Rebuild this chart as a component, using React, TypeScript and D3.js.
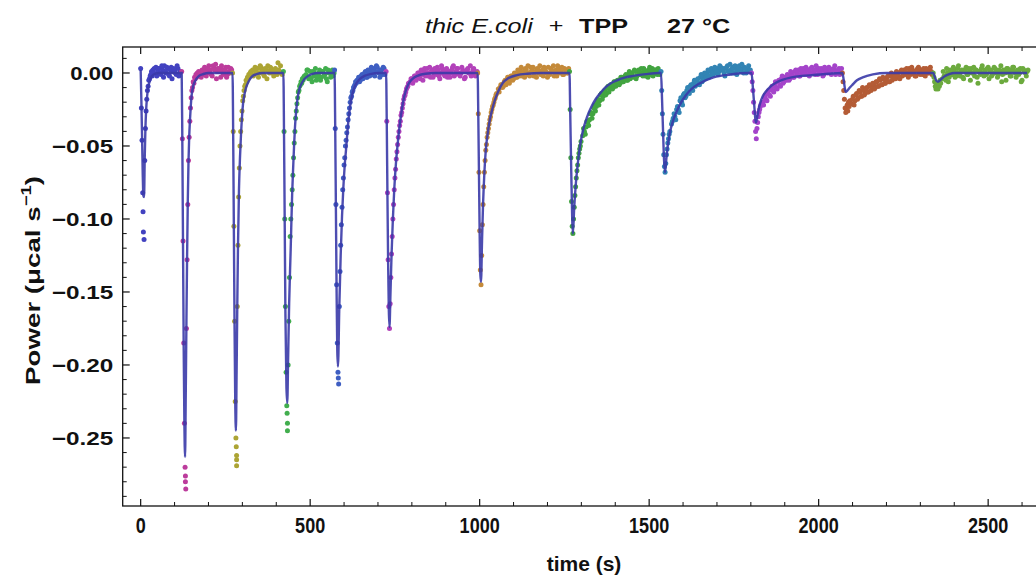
import React from 'react';
import * as d3 from 'd3';

const W = 1036;
const H = 577;

// injection (drop start) time of each data segment, s
const segStart = [0, 121, 271, 421, 572, 724, 994, 1265, 1535, 1802, 2070, 2338];
const segColor = ['#4242c0', '#bc3c9c', '#aca434', '#42ae4e', '#3e5ec2', '#b242ba', '#c48a3a', '#42a440', '#3284b4', '#a444ca', '#b45c36', '#6caa3e'];

// dots near each peak, every 2 s from segStart (units 0.001 µcal/s)
const peakDots = [
  '3,-24,-46,-82,-109,-114,-60,-38,-26,-18,-12,-9,-5,-4,-2,-1,1,-2,2,0,3',
  '1,-45,-115,-185,-240,-270,-285,-175,-128,-90,-60,-44,-33,-24,-17,-12,-10,-6,-7,-3,-4,-1,-3,0,-2,1',
  '0,-40,-105,-170,-225,-250,-262,-160,-118,-85,-65,-50,-40,-32,-26,-19,-16,-12,-9,-8,-5,-6,-3,-4,-1,-2,0,1',
  '1,-40,-100,-160,-205,-228,-240,-200,-170,-140,-112,-100,-90,-80,-70,-58,-48,-40,-31,-26,-21,-17,-13,-12,-9,-8,-6,-7,-4,-5,-3,-2',
  '2,-38,-90,-145,-185,-205,-213,-160,-136,-118,-104,-92,-80,-72,-63,-58,-50,-46,-41,-37,-32,-28,-24,-20,-17,-16,-13,-12,-10,-9,-8,-6,-7,-5',
  '1,-33,-82,-128,-160,-175,-158,-140,-124,-112,-100,-90,-80,-72,-66,-59,-54,-49,-44,-40,-36,-33,-29,-27,-24,-21,-18,-16,-15,-13,-11,-10,-9,-7',
  '0,-28,-68,-108,-135,-145,-125,-104,-90,-78,-68,-60,-53,-49,-44,-41,-38,-35,-32,-30,-27,-25,-23,-22,-20,-18,-17,-15,-14',
  '1,-25,-58,-88,-105,-110,-100,-92,-84,-78,-72,-67,-63,-58,-55,-52,-50,-47',
  '1,-12,-28,-42,-56,-64,-68,-62,-56,-52,-48,-45,-42,-40',
  '0,-6,-12,-20,-27,-33,-40,-45,-38,-34,-30,-27,-25,-23,-22',
  '0,-6,-12,-18,-24,-27,-25,-22,-26,-20,-23,-19',
  '0,-3,-6,-9,-11,-10,-8,-11,-7,-9,-5,-7',
];

// dots after each peak, every 5 s (units 0.001 µcal/s)
const tailDots = [
  '4,1,3,-1,2,5,0,3,-2,4,1,2,-1,3,0',
  '0,2,-1,3,1,5,2,-2,4,6,1,3,-3,2,0,4,-1,1,3',
  '2,-1,1,3,0,4,1,-2,2,5,0,3,1,-1,2,7,1,0',
  '-1,2,-3,-4,1,0,-5,-2,2,-3,1,-1,-4,2,0,1,-2',
  '-3,-5,-1,-2,1,-3,0,2,-1,3,1,4,0,2,-1,3',
  '-6,-4,-5,-2,-3,0,-4,-1,1,-2,3,0,-3,2,-1,1,4,-2,0,3,-1,2,-3,1,0,4,-2,1,3,-1,0,2,-4,1,3,0,-2,2,1,-1',
  '-11,-10,-8,-9,-5,-6,-3,-5,-2,-4,-1,-3,0,2,-2,1,3,-1,0,4,2,-2,1,3,0,-1,2,4,1,-3,0,3,1,-2,2,5,0,1,-1,3,2,0',
  '-43,-40,-37,-34,-32,-27,-28,-22,-23,-18,-19,-14,-16,-12,-14,-9,-11,-8,-10,-6,-8,-5,-7,-3,-6,-2,-5,-1,-4,0,-3,1,-2,2,-1,0,3,-2,1,2,-1,3,0,2,-1,1',
  '-35,-31,-30,-25,-25,-19,-20,-15,-17,-12,-13,-9,-11,-7,-9,-5,-7,-3,-6,-2,-4,0,-3,1,-1,2,0,3,1,4,2,0,3,5,1,2,4,0,3,2,5,1,3,4,0,2,1',
  '-20,-17,-18,-13,-15,-11,-12,-8,-10,-6,-8,-4,-7,-3,-5,-2,-4,0,-3,1,-1,2,-2,0,3,1,-1,2,0,4,1,-1,2,3,0,2,-1,3,1,4,0,2,3,-1,1,3,0',
  '-21,-16,-19,-14,-17,-13,-16,-12,-14,-10,-13,-9,-11,-8,-10,-6,-9,-5,-8,-4,-7,-3,-6,-2,-5,-1,-4,0,-3,1,-2,2,-1,0,3,-1,2,1,-2,3,0,2,-1,1,3,0,2,1',
  '-4,-2,-5,0,-3,1,-1,2,-2,3,0,1,-3,2,4,-1,1,3,0,-2,2,-7,1,3,0,2,-1,4,1,-2,0,3,2,-1,1,-6,2,0,3,1,-2,2,4,0,1,-1,3,-5,2,0,1',
];

// second set of tail dots, 2.5 s after each of the above
const tailDotsB = [
  '-2,3,0,5,-3,1,4,-1,2,-4,3,0,5,-2,1',
  '-3,1,4,-2,3,0,-1,5,2,-4,3,1,5,-1,2,-3,4,0,2',
  '-2,4,0,-3,5,2,-1,3,-4,1,4,0,-2,3,-1,2,5,-1',
  '2,-4,1,-6,-2,3,-3,0,-5,1,-2,3,-6,0,-3,2,0',
  '-6,-2,-4,0,-3,2,-2,4,0,-2,5,1,-3,2,4,-1',
  '-4,-7,-2,-5,0,-3,2,-5,3,0,-2,4,1,-3,3,-1,2,-4,5,1,-2,3,0,-3,2,5,-1,3,0,-2,4,1,-3,2,0,5,-1,3,-2,1',
  '-13,-8,-10,-6,-8,-3,-7,-2,-5,0,-3,2,-2,4,0,-3,2,5,-2,1,4,0,-3,2,5,1,-2,3,0,4,-1,2,5,0,-2,3,1,4,-1,2,0,3',
  '-38,-42,-33,-36,-28,-31,-24,-26,-20,-22,-15,-18,-13,-15,-10,-13,-8,-11,-6,-9,-5,-8,-3,-6,-4,-1,-5,1,-3,-2,2,-4,1,-1,3,-2,2,0,-3,4,1,-2,2,0,3,-1',
  '-33,-28,-32,-23,-27,-17,-22,-14,-16,-10,-14,-8,-12,-5,-8,-4,-8,-1,-5,0,-3,2,-2,3,-1,4,1,-1,5,2,3,-2,4,1,6,0,3,5,-1,4,2,6,0,3,1,5,2',
  '-22,-15,-19,-12,-16,-9,-13,-6,-11,-5,-9,-2,-6,-4,-1,-5,1,-2,-3,2,0,-2,3,1,-1,4,2,-2,3,0,2,5,-1,1,3,-2,4,1,0,3,-1,2,5,0,2,-1,3',
  '-18,-22,-15,-18,-12,-16,-10,-15,-11,-13,-8,-12,-7,-11,-6,-9,-4,-8,-3,-7,-5,-2,-6,0,-4,-3,1,-2,-4,2,-1,0,3,-3,1,4,0,-2,2,4,-1,1,3,-2,2,0,4,-1',
  '1,-3,3,-6,2,-1,4,-3,0,5,-2,2,-4,1,-1,3,-5,0,4,2,-3,1,-1,5,-2,0,3,-4,2,-1,4,0,-3,2,5,-1,1,-5,3,0,-2,4,1,-3,2,0,-6,3,1,-2,2',
];

// extra dots clustered at the bottom of peaks: [t, value, segment]
const deepDots: [number, number, number][] = [
  [7, -95, 0],
  [132, -276, 1], [132, -280, 1],
  [282, -256, 2], [283, -265, 2], [283, -269, 2],
  [432, -233, 3], [433, -245, 3],
  [583, -209, 4],
];

// fitted curve: [t, value]
const fitCurve: [number, number][] = [
  [0, 2], [2, -18], [4, -42], [6, -68], [8, -84], [10, -85], [12, -58], [14, -38], [16, -26], [19, -16], [22, -10], [26, -6], [30, -3.5], [36, -1.5], [44, -0.5], [55, 0],
  [121, 0], [123, -50], [125, -120], [127, -190], [129, -240], [131, -263], [133, -220], [135, -170], [137, -125], [139, -88], [141, -62], [143, -45], [145.5, -32], [148, -22], [150.5, -15], [155, -9], [163, -4.5], [172, -2], [185, -0.7], [200, 0],
  [271, 0], [273, -45], [275, -110], [277, -175], [279, -225], [281, -245], [283, -205], [285, -160], [287, -120], [290, -80], [293, -58], [296, -42], [299, -30], [302, -21], [306, -15], [311, -10], [318, -6], [328, -2.5], [342, -0.8], [360, 0],
  [421, 0], [423, -45], [425, -105], [427, -165], [430, -215], [432.5, -226], [435, -195], [438, -158], [442.5, -121], [447, -82], [450, -64], [452.5, -50], [455, -38], [458, -28], [462, -19], [467, -12], [474, -7.5], [482, -4.5], [492, -2.3], [504, -0.8], [525, 0],
  [572, 0], [574, -40], [576, -95], [578, -150], [580, -190], [582, -201], [586, -160], [590, -125], [594, -98], [598, -78], [602, -63], [606, -52], [610, -40], [614, -30], [619, -21], [625, -14], [633, -8.5], [645, -4.5], [660, -2], [680, -0.6], [700, 0],
  [724, 0], [726, -35], [728, -85], [730, -130], [732, -162], [734, -174], [737, -150], [740, -125], [744, -100], [748, -80], [753, -62], [758, -49], [763, -38], [768, -29], [774, -20], [781, -13], [790, -7.5], [802, -4], [818, -1.8], [840, -0.5], [870, 0],
  [994, 0], [996, -30], [998, -70], [1000, -110], [1002, -138], [1004, -143], [1007, -115], [1010, -90], [1014, -68], [1018, -53], [1024, -41], [1030, -32], [1037, -25], [1045, -18.5], [1055, -12.5], [1069, -6.5], [1085, -3.5], [1110, -1.5], [1140, -0.5], [1180, 0],
  [1265, 0], [1267, -25], [1270, -65], [1273, -100], [1275, -110], [1279, -92], [1284, -75], [1290, -61], [1296, -50], [1304, -40], [1317, -30], [1330, -23], [1342, -18], [1355, -14], [1370, -10], [1387, -7], [1405, -5], [1430, -3], [1453, -2], [1490, -0.8], [1530, 0],
  [1535, 0], [1538, -18], [1541, -40], [1544, -60], [1547, -68], [1551, -58], [1556, -48], [1562, -40], [1570, -33], [1580, -27], [1590, -22], [1600, -18], [1620, -12], [1650, -7], [1690, -3], [1740, -1], [1790, 0],
  [1802, 0], [1806, -10], [1810, -22], [1813, -31], [1815, -34], [1818, -31], [1822, -26], [1827, -21], [1835, -16], [1845, -12.5], [1857, -9.5], [1875, -6.5], [1895, -4.5], [1920, -3], [1950, -2], [1985, -1.4], [2030, -0.5], [2068, 0],
  [2070, 0], [2074, -5], [2077, -10], [2080, -13], [2085, -12], [2092, -10], [2100, -8], [2113, -5], [2130, -3], [2160, -1], [2200, 0], [2338, 0],
  [2343, -3], [2348, -5.5], [2352, -6], [2360, -4.5], [2370, -2.5], [2385, -0.8], [2400, 0], [2615, 0],
];

const xMajor = [0, 500, 1000, 1500, 2000, 2500];
const yMajor = [0, -0.05, -0.1, -0.15, -0.2, -0.25];
const yTickLabels = ['0.00', '\u22120.05', '\u22120.10', '\u22120.15', '\u22120.20', '\u22120.25'];

const L = 122.7, R = 1039, T = 47, B = 506;
const x = d3.scaleLinear().domain([-53, 2650]).range([L, R]);
const y = d3.scaleLinear().domain([-0.2966, 0.0178]).range([B, T]);

type Pt = { t: number; v: number; c: string };

function buildDots(): Pt[] {
  const pts: Pt[] = [];
  segStart.forEach((s, k) => {
    const pv = peakDots[k].split(',').map(Number);
    pv.forEach((v, i) => pts.push({ t: s + i * 2, v: v / 1000, c: segColor[k] }));
    const t0 = s + (pv.length - 1) * 2 + 5;
    tailDots[k].split(',').map(Number).forEach((v, j) => pts.push({ t: t0 + j * 5, v: v / 1000, c: segColor[k] }));
    tailDotsB[k].split(',').map(Number).forEach((v, j) => pts.push({ t: t0 + 2.5 + j * 5, v: v / 1000, c: segColor[k] }));
  });
  deepDots.forEach(([t, v, k]) => pts.push({ t, v: v / 1000, c: segColor[k] }));
  return pts;
}

export default function App() {
  const dots = buildDots();
  const line = d3
    .line<[number, number]>()
    .x((d) => x(d[0]))
    .y((d) => y(d[1] / 1000))
    .curve(d3.curveMonotoneX);
  const xMinor = d3.range(100, 2700, 100).filter((t) => t % 500 !== 0);
  const yMinor = d3.range(-29, 2, 1).map((v) => v / 100).filter((v) => Math.round(v * 100) % 5 !== 0);
  const font = '"Liberation Sans", Arial, sans-serif';
  const tickC = '#111';
  const sx = 1.2;

  return (
    <svg width={W} height={H} style={{ position: 'absolute', left: 0, top: 0, background: '#fff' }} fontFamily={font}>
      <defs>
        <clipPath id="plot">
          <rect x={L} y={T} width={R - L} height={B - T} />
        </clipPath>
      </defs>
      <g clipPath="url(#plot)">
        {dots.map((d, i) => (
          <circle key={i} cx={x(d.t)} cy={y(d.v)} r={2.5} fill={d.c} />
        ))}
        <path d={line(fitCurve) || ''} fill="none" stroke="#3a3aa8" strokeWidth={2.4} strokeOpacity={0.9} />
      </g>
      {/* frame */}
      <rect x={L} y={T} width={R - L + 10} height={B - T} fill="none" stroke={tickC} strokeWidth={1.3} />
      {xMajor.map((t) => (
        <g key={'xm' + t}>
          <line x1={x(t)} x2={x(t)} y1={B} y2={B - 7} stroke={tickC} strokeWidth={1.2} />
          <line x1={x(t)} x2={x(t)} y1={T} y2={T + 7} stroke={tickC} strokeWidth={1.2} />
          <text transform={`translate(${x(t)},533) scale(0.82,1)`} textAnchor="middle" fontSize={22} fontWeight="bold" fill="#111">
            {t}
          </text>
        </g>
      ))}
      {xMinor.map((t) => (
        <g key={'xn' + t}>
          <line x1={x(t)} x2={x(t)} y1={B} y2={B - 4} stroke={tickC} strokeWidth={1} />
          <line x1={x(t)} x2={x(t)} y1={T} y2={T + 4} stroke={tickC} strokeWidth={1} />
        </g>
      ))}
      {yMajor.map((v, i) => {
        const len = i === 0 ? 43 : 61.5;
        return (
          <g key={'ym' + i}>
            <line x1={L} x2={L + 7} y1={y(v)} y2={y(v)} stroke={tickC} strokeWidth={1.2} />
            <text x={113.3 - len} y={y(v) + 6.8} fontSize={19} fontWeight="bold" fill="#111" textLength={len} lengthAdjust="spacingAndGlyphs">
              {yTickLabels[i]}
            </text>
          </g>
        );
      })}
      {yMinor.map((v, i) => (
        <line key={'yn' + i} x1={L} x2={L + 4} y1={y(v)} y2={y(v)} stroke={tickC} strokeWidth={1} />
      ))}
      <text x={584} y={571} textAnchor="middle" fontSize={21} fontWeight="bold" fill="#111">
        time (s)
      </text>
      <text transform="translate(40,385) rotate(-90)" fontSize={21} fontWeight="bold" fill="#111" textLength={209} lengthAdjust="spacingAndGlyphs">
        Power (μcal s<tspan fontSize={14} dy={-9}>−1</tspan>
        <tspan dy={9}>)</tspan>
      </text>
      {/* title */}
      <text transform={`translate(425,33) scale(${sx},1)`} fontSize={21} fontStyle="italic" fill="#111">
        thic E.coli
      </text>
      <text transform={`translate(556,33) scale(${sx},1)`} textAnchor="middle" fontSize={21} fill="#111">
        +
      </text>
      <text transform={`translate(579,33) scale(${sx},1)`} fontSize={21} fontWeight="bold" fill="#111">
        TPP
      </text>
      <text transform={`translate(667,33) scale(${sx},1)`} fontSize={21} fontWeight="bold" fill="#111">
        27 °C
      </text>
    </svg>
  );
}
